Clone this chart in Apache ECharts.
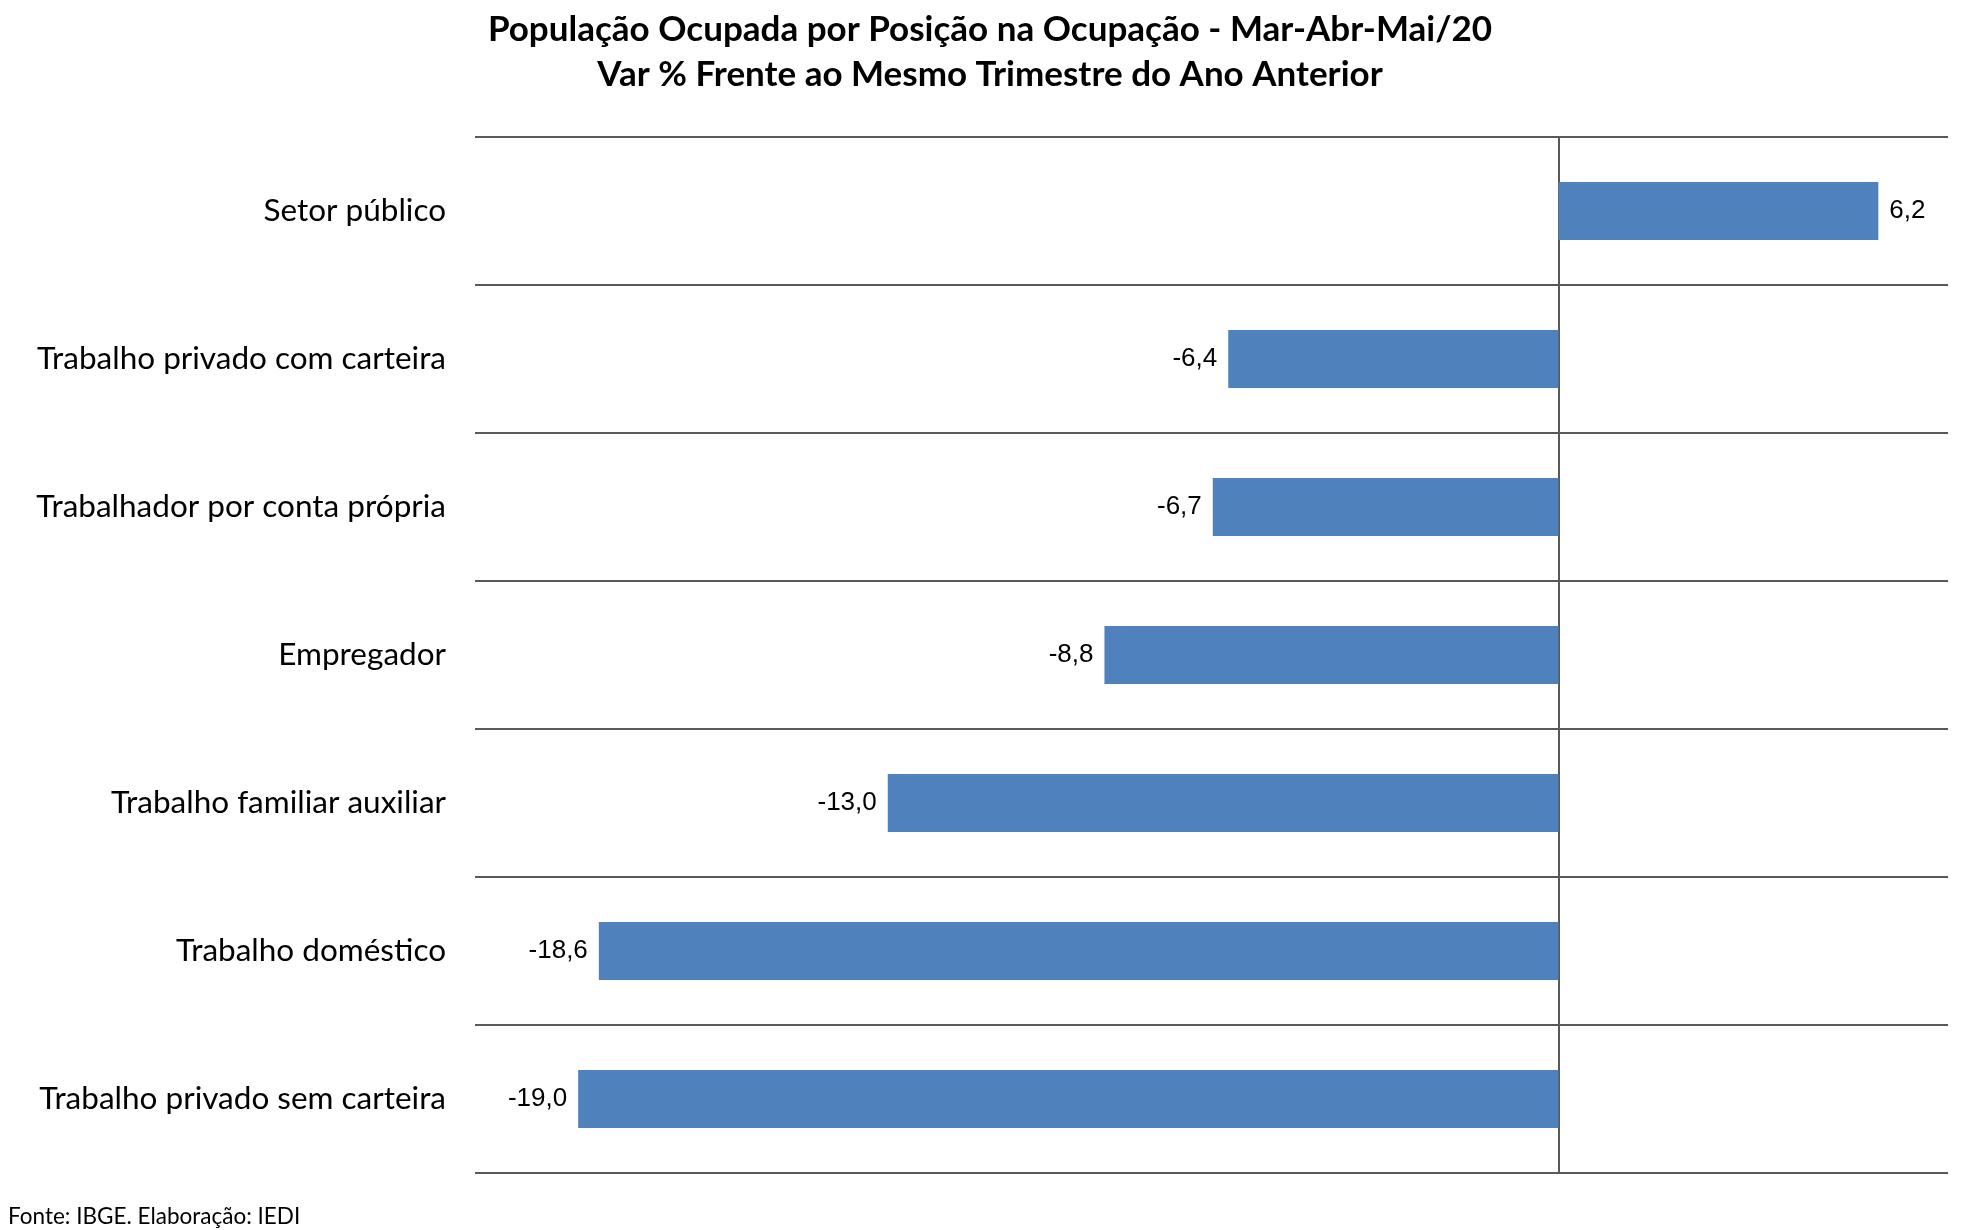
<!DOCTYPE html>
<html>
<head>
<meta charset="utf-8">
<script src="https://cdn.jsdelivr.net/npm/echarts@6/dist/echarts.min.js"></script>
<style>html,body{margin:0;padding:0;background:#fff}#c{width:1975px;height:1230px}</style>
</head>
<body>
<div id="c"></div>
<script>
const categories = ["Setor público","Trabalho privado com carteira","Trabalhador por conta própria","Empregador","Trabalho familiar auxiliar","Trabalho doméstico","Trabalho privado sem carteira"];
const values = [6.2, -6.4, -6.7, -8.8, -13.0, -18.6, -19.0];
const titleText = "População Ocupada por Posição na Ocupação - Mar-Abr-Mai/20\nVar % Frente ao Mesmo Trimestre do Ano Anterior";
const sourceText = "Fonte: IBGE. Elaboração: IEDI";

const chart = echarts.init(document.getElementById('c'));
chart.setOption({
  backgroundColor: '#ffffff',
  animation: false,
  title: [{
    text: titleText,
    left: 985, top: 2, textAlign: 'center',
    textStyle: {fontFamily: 'Lato', fontWeight: 'bold', fontSize: 35, lineHeight: 45, color: '#000'}
  }, {
    text: sourceText,
    left: 3, top: 1200,
    textStyle: {fontFamily: 'Lato', fontWeight: 'normal', fontSize: 22.5, color: '#000'}
  }],
  grid: {left: 475, right: 27, top: 137, bottom: 57, containLabel: false},
  xAxis: {
    type: 'value', min: -21, max: 7.55,
    axisLine: {show: false}, axisTick: {show: false}, axisLabel: {show: false}, splitLine: {show: false}
  },
  yAxis: {
    type: 'category', inverse: true, data: categories,
    axisLine: {show: true, onZero: true, lineStyle: {color: '#595959', width: 2}},
    axisTick: {show: false},
    axisLabel: {margin: 29, fontFamily: 'Lato', fontSize: 31.5, color: '#000'},
    splitLine: {show: true, lineStyle: {color: '#595959', width: 2}}
  },
  series: [{
    type: 'bar',
    barWidth: 58,
    itemStyle: {color: '#4F81BD'},
    label: {
      show: true, distance: 11,
      fontFamily: 'Liberation Sans', fontSize: 26, color: '#000',
      formatter: p => p.value.toFixed(1).replace('.', ',')
    },
    data: values.map(v => ({value: v, label: {position: v >= 0 ? 'right' : 'left'}}))
  }]
});
</script>
</body>
</html>
